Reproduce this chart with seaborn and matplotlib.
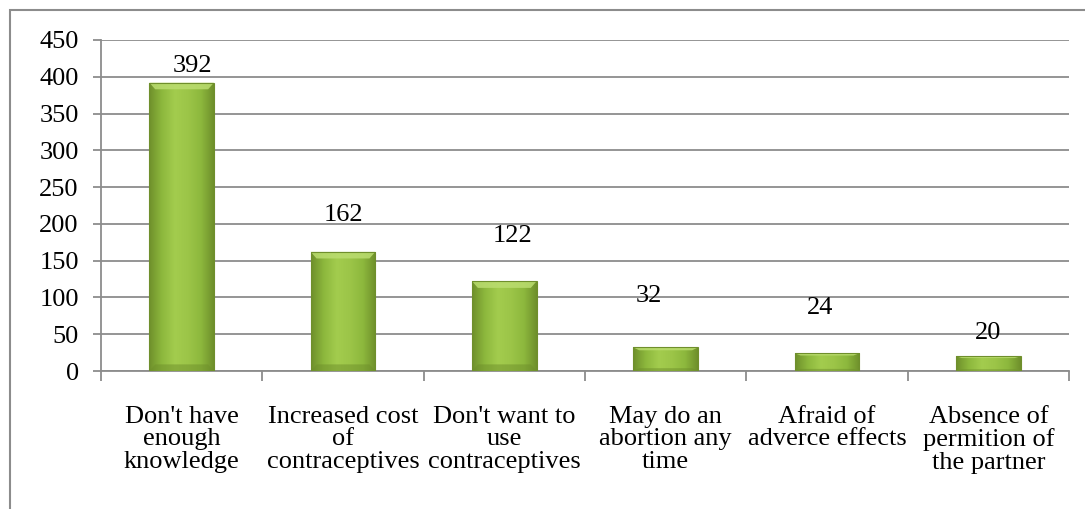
import numpy as np
import pandas as pd
import matplotlib
matplotlib.use("Agg")
import matplotlib.pyplot as plt
import seaborn as sns
from matplotlib.patches import Rectangle, Polygon
from matplotlib.colors import LinearSegmentedColormap

categories = ["Don't have\nenough\nknowledge",
              "Increased cost\nof\ncontraceptives",
              "Don't want to\nuse\ncontraceptives",
              "May do an\nabortion any\ntime",
              "Afraid of\nadverce effects",
              "Absence of\npermition of\nthe partner"]
values = [392, 162, 122, 32, 24, 20]
# where Excel put the value labels (baseline, data units)
label_y = [406, 204, 175, 94, 77, 44]
label_dx = [0.065, 0, 0.053, -0.105, -0.043, 0]

sns.set_theme(style="white")
plt.rcParams['font.family'] = ['Liberation Serif', 'DejaVu Serif']

FS = 19
W, H, DPI = 1085, 509, 100
fig = plt.figure(figsize=(W / DPI, H / DPI), dpi=DPI)
ax = fig.add_axes([101 / W, 1 - 371 / H, (1069 - 101) / W, (371 - 40) / H])

df = pd.DataFrame({"cat": categories, "val": values})
sns.barplot(data=df, x="cat", y="val", color="#94C043", width=0.40,
            saturation=1, ax=ax, edgecolor="#6F8F2C", linewidth=0.8, zorder=3)

ax.set_ylim(0, 450)
ax.set_xlim(-0.5, len(categories) - 0.5)
ax.set_yticks(np.arange(0, 451, 50))
ax.yaxis.grid(True, color="#8C8C8C", linewidth=1.3)
ax.set_axisbelow(True)
ax.set_xlabel("")
ax.set_ylabel("")
for s in ["top", "right"]:
    ax.spines[s].set_visible(False)
for s in ["left", "bottom"]:
    ax.spines[s].set_color("#8C8C8C")
    ax.spines[s].set_linewidth(1.3)
ax.tick_params(axis="y", length=6, width=1.3, color="#8C8C8C", labelsize=FS,
               left=True, pad=10, labelcolor="black")
ax.set_xticks(np.arange(len(categories)))
ax.set_xticklabels(categories, fontsize=FS, linespacing=1.03, color="black")
ax.tick_params(axis="x", length=0, pad=25)
ax.set_xticks(np.arange(-0.5, len(categories)), minor=True)
ax.tick_params(axis="x", which="minor", length=7, width=1.3, color="#8C8C8C",
               bottom=True, direction="out")

# bevel/gradient shading on each bar
cmap = LinearSegmentedColormap.from_list(
    "g", ["#6E8F2B", "#8DB83D", "#A3CC4E", "#9CC548", "#8DB83D", "#6E8F2B"])
grad = np.linspace(0, 1, 256).reshape(1, -1)
for p in list(ax.patches):
    x0, y0 = p.get_x(), p.get_y()
    w, h = p.get_width(), p.get_height()
    im = ax.imshow(grad, cmap=cmap, aspect="auto",
                   extent=[x0, x0 + w, y0, y0 + h], zorder=3.5,
                   interpolation="bicubic")
    im.set_clip_path(p)
    bh = min(h * 0.12, 9)
    bw = w * 0.09
    top = Polygon([(x0, y0 + h), (x0 + w, y0 + h), (x0 + w - bw, y0 + h - bh),
                   (x0 + bw, y0 + h - bh)], closed=True,
                  facecolor="#BBDD70", edgecolor="none", alpha=0.85, zorder=3.6)
    ax.add_patch(top)
    bot = Polygon([(x0, y0), (x0 + w, y0), (x0 + w - bw, y0 + bh),
                   (x0 + bw, y0 + bh)], closed=True,
                  facecolor="#6E8F2B", edgecolor="none", alpha=0.5, zorder=3.6)
    ax.add_patch(bot)
    p.set_zorder(3.7)
    p.set_facecolor("none")

for i, (v, ly) in enumerate(zip(values, label_y)):
    ax.text(i + label_dx[i], ly, str(v), ha="center", va="baseline",
            fontsize=FS, color="black", zorder=5)

# outer chart border
fig.patches.append(Rectangle((10 / W, -0.1), 1.2, 1 - 10 / H + 0.1,
                             transform=fig.transFigure, fill=False,
                             edgecolor="#8C8C8C", linewidth=1.5))

fig.savefig("out.png", dpi=DPI)
